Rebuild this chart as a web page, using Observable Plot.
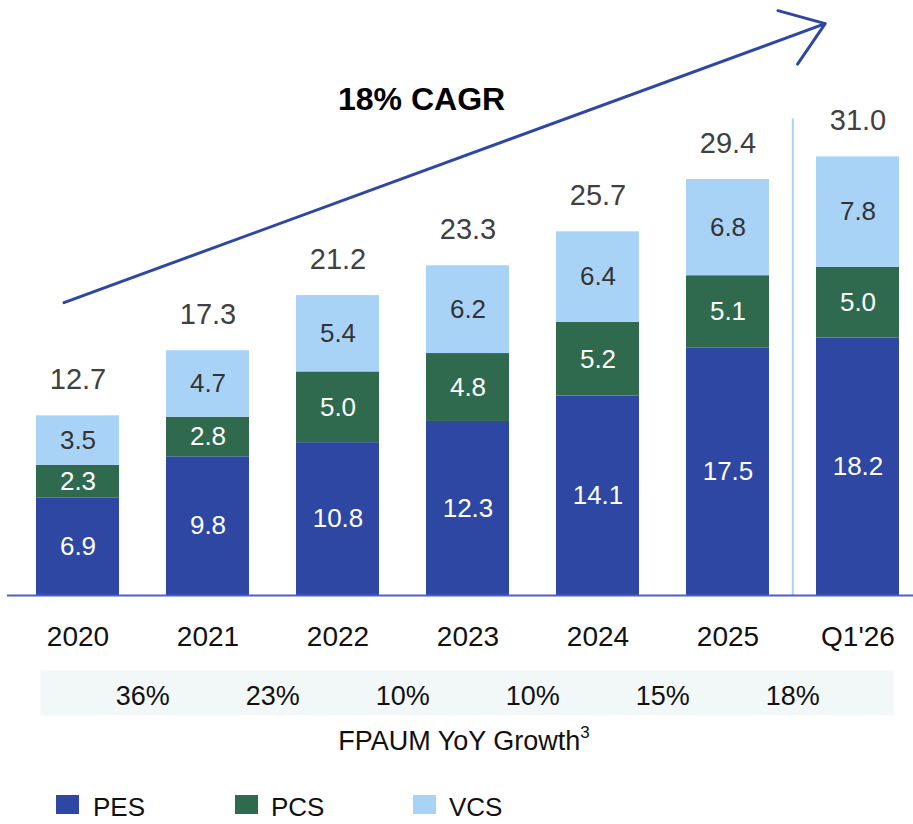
<!DOCTYPE html>
<html>
<head>
<meta charset="utf-8">
<script src="https://cdn.jsdelivr.net/npm/d3@7"></script>
<script src="https://cdn.jsdelivr.net/npm/@observablehq/plot@0.6"></script>
<style>
  body { margin: 0; background: #fff; font-family: "Liberation Sans", Arial, sans-serif; }
  #wrap { width: 913px; }
  #wrap svg { display: block; }
  .caption { height: 42px; line-height: 42px; font-size: 27px; text-align: center; color: #111; padding-left: 15px; box-sizing: border-box; width: 913px; }
  .caption .sup { font-size: 17px; position: relative; top: -12px; }
  .legend { position: relative; height: 64px; width: 913px; }
  .legend .sw { position: absolute; top: 33px; width: 23px; height: 19px; }
  .legend .lb { position: absolute; top: 31px; font-size: 26px; line-height: 28px; color: #111; }
</style>
</head>
<body>
<div id="wrap"></div>
<script>
// ---- data ----
const categories = ["2020", "2021", "2022", "2023", "2024", "2025", "Q1'26"];
const series = ["PES", "PCS", "VCS"];
const pes = [6.9, 9.8, 10.8, 12.3, 14.1, 17.5, 18.2];
const pcs = [2.3, 2.8, 5.0, 4.8, 5.2, 5.1, 5.0];
const vcs = [3.5, 4.7, 5.4, 6.2, 6.4, 6.8, 7.8];
const totals = [12.7, 17.3, 21.2, 23.3, 25.7, 29.4, 31.0];
const growth = ["36%", "23%", "10%", "10%", "15%", "18%"];
const cagrLabel = "18% CAGR";
const captionText = "FPAUM YoY Growth";
const captionSup = "3";
// annotation anchors (data space)
const cagrTextAnchor = {cat: "2022", value: 35.07};
const cagrArrow = [{from: "2020", fromValue: 20.7, to: "Q1'26", toValue: 40.9}];
const separator = {cat: "Q1'26", top: 33.7};

// ---- styling ----
const colors = ["#2e47a3", "#2f6a4e", "#a8d3f7"];
const fmt = d3.format(".1f");
const xRange = [10.8, 923.4];
const paddingInner = 0.3635, paddingOuter = 0.182;
const step = (xRange[1] - xRange[0]) / categories.length;
const font = "Liberation Sans, Arial, sans-serif";

const vals = {PES: pes, PCS: pcs, VCS: vcs};
const rows = categories.flatMap((c, i) => series.map(s => ({cat: c, series: s, value: vals[s][i]})));
const totalRows = categories.map((c, i) => ({cat: c, total: totals[i]}));
const growthRows = growth.map((g, i) => ({cat: categories[i], g}));

const xScale = {domain: categories, range: xRange, paddingInner, paddingOuter};

const main = Plot.plot({
  width: 913,
  height: 660,
  marginTop: 0,
  marginBottom: 65,
  marginLeft: 7,
  marginRight: 0,
  style: {fontFamily: font, overflow: "visible"},
  x: {...xScale, label: null},
  y: {domain: [0, 42.05], axis: null},
  color: {domain: series, range: colors},
  marks: [
    Plot.barY(rows, {x: "cat", y: "value", fill: "series"}),
    Plot.text(rows, Plot.stackY({x: "cat", y: "value", text: d => d.series !== "VCS" ? fmt(d.value) : "", fill: "white", fontSize: 26})),
    Plot.text(rows, Plot.stackY({x: "cat", y: "value", text: d => d.series === "VCS" ? fmt(d.value) : "", fill: "#333", fontSize: 26})),
    Plot.text(totalRows, {x: "cat", y: "total", text: d => fmt(d.total), dy: -36, fontSize: 29, fill: "#404040"}),
    Plot.ruleX([separator], {x: "cat", y1: 0, y2: "top", dx: -step / 2, stroke: "#a8d3f7", strokeWidth: 2}),
    Plot.ruleY([0], {stroke: "#4b63b8", strokeWidth: 2}),
    Plot.axisX({tickSize: 0, tickPadding: 31, fontSize: 28, fill: "#111", label: null}),
    Plot.arrow(cagrArrow, {x1: "from", y1: "fromValue", x2: "to", y2: "toValue", dx: -14, insetEnd: 20,
      stroke: "#2e47a3", strokeWidth: 3, headAngle: 71, headLength: 24.5}),
    Plot.text([cagrTextAnchor], {x: "cat", y: "value", text: () => cagrLabel, textAnchor: "start",
      fontWeight: "bold", fontSize: 32, fill: "#000"})
  ]
});

const growthPlot = Plot.plot({
  width: 913,
  height: 60,
  marginTop: 10,
  marginBottom: 5,
  marginLeft: 40,
  marginRight: 20,
  style: {fontFamily: font},
  x: {...xScale, axis: null},
  marks: [
    Plot.frame({fill: "#f2f7f7", stroke: "none"}),
    Plot.text(growthRows, {x: "cat", text: "g", dx: step / 2, dy: 3, fontSize: 27, fill: "#111"})
  ]
});

const wrap = document.getElementById("wrap");
wrap.appendChild(main);
wrap.appendChild(growthPlot);

const cap = document.createElement("div");
cap.className = "caption";
cap.append(captionText);
const sup = document.createElement("span");
sup.className = "sup";
sup.textContent = captionSup;
cap.appendChild(sup);
wrap.appendChild(cap);

const legend = document.createElement("div");
legend.className = "legend";
const swX = [56, 235, 413], lbX = [93, 271, 449];
series.forEach((s, i) => {
  const sw = document.createElement("div");
  sw.className = "sw";
  sw.style.left = swX[i] + "px";
  sw.style.background = colors[i];
  const lb = document.createElement("div");
  lb.className = "lb";
  lb.style.left = lbX[i] + "px";
  lb.textContent = s;
  legend.appendChild(sw);
  legend.appendChild(lb);
});
wrap.appendChild(legend);
</script>
</body>
</html>
